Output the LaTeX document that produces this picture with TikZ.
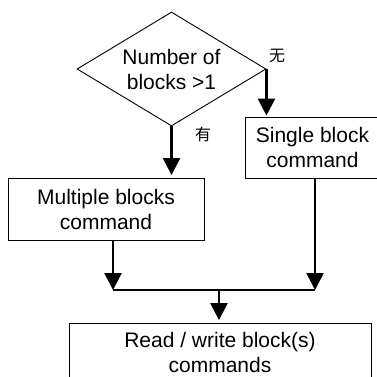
\documentclass[tikz,border=0pt]{standalone}
\usepackage{fontspec}
\setmainfont{Liberation Sans}
\newfontfamily\cjk{Noto Sans CJK SC}
\usetikzlibrary{shapes.geometric,arrows.meta}
\tikzset{
  boxnode/.style={draw, line width=0.9pt, inner sep=0pt, align=center,
    font=\fontsize{21}{25}\selectfont},
  flowarrow/.style={line width=2.5pt, -{Triangle[length=17pt,width=17pt]}},
  flowline/.style={line width=2.5pt}
}
\begin{document}
\begin{tikzpicture}[x=1pt,y=-1pt]
  \useasboundingbox (0,0) rectangle (377,376);
  {
  % Decision diamond
  \node [boxnode, diamond, aspect=1.66, minimum width=189pt, minimum height=114pt] (count) at (171.5,69) {Number of\\blocks >1};%
  \node [font=\cjk\fontsize{16}{16}\selectfont] (nolabel) at (277,56) {无};%
  \node [font=\cjk\fontsize{16}{16}\selectfont] (yeslabel) at (203,134) {有};%

  % Command boxes
  \node [boxnode, minimum width=135pt, minimum height=61pt] (single) at (312.5,147.5) {Single block\\command};%
  \node [boxnode, minimum width=196pt, minimum height=62pt] (multi) at (106,209) {Multiple blocks\\command};%
  \node [boxnode, minimum width=302pt, minimum height=59pt] (rw) at (220,352.5) {Read / write block(s)\\commands};%

  % Branch arrows
  \draw [flowarrow, shorten >=2.5pt] (count.south) -- (count.south |- multi.north);%
  \draw [flowarrow, shorten >=1pt] (count.east) -- (count.east |- single.north);%

  % Joining the branches
  \coordinate (multiout) at (113,0 |- multi.south);%
  \coordinate (singleout) at (315,0 |- single.south);%
  \coordinate (joinleft) at (113,290);%
  \coordinate (joinright) at (315,290);%
  \coordinate (joinmid) at (219,290);%
  \draw [flowarrow] (multiout) -- (joinleft);%
  \draw [flowarrow] (singleout) -- (joinright);%
  \draw [flowline] (joinleft) -- (joinright);%
  \draw [flowarrow, shorten >=2.5pt] (joinmid) -- (joinmid |- rw.north);%
  }
\end{tikzpicture}
\end{document}
